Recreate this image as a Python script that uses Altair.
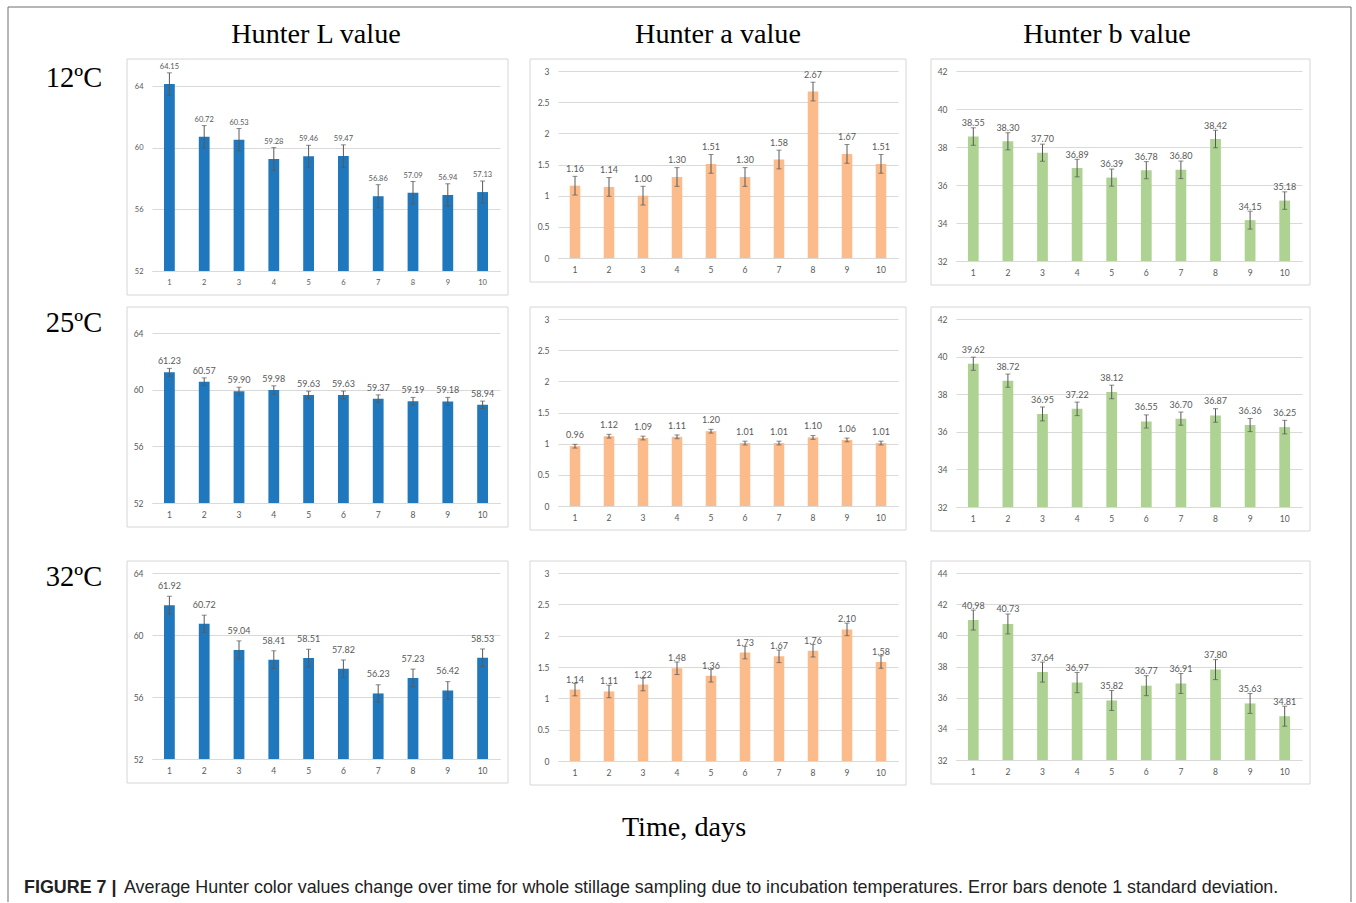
import altair as alt
import pandas as pd

# Sampling days
days = list(range(1, 11))

# Mean Hunter values by incubation temperature
L_12 = [64.15, 60.72, 60.53, 59.28, 59.46, 59.47, 56.86, 57.09, 56.94, 57.13]
a_12 = [1.16, 1.14, 1.00, 1.30, 1.51, 1.30, 1.58, 2.67, 1.67, 1.51]
b_12 = [38.55, 38.30, 37.70, 36.89, 36.39, 36.78, 36.80, 38.42, 34.15, 35.18]
L_25 = [61.23, 60.57, 59.90, 59.98, 59.63, 59.63, 59.37, 59.19, 59.18, 58.94]
a_25 = [0.96, 1.12, 1.09, 1.11, 1.20, 1.01, 1.01, 1.10, 1.06, 1.01]
b_25 = [39.62, 38.72, 36.95, 37.22, 38.12, 36.55, 36.70, 36.87, 36.36, 36.25]
L_32 = [61.92, 60.72, 59.04, 58.41, 58.51, 57.82, 56.23, 57.23, 56.42, 58.53]
a_32 = [1.14, 1.11, 1.22, 1.48, 1.36, 1.73, 1.67, 1.76, 2.10, 1.58]
b_32 = [40.98, 40.73, 37.64, 36.97, 35.82, 36.77, 36.91, 37.80, 35.63, 34.81]

# Standard deviations (error bars)
sd_L_12 = [0.73, 0.73, 0.73, 0.74, 0.71, 0.73, 0.75, 0.73, 0.73, 0.72]
sd_a_12 = [0.15, 0.15, 0.15, 0.15, 0.15, 0.15, 0.15, 0.15, 0.15, 0.15]
sd_b_12 = [0.46, 0.45, 0.45, 0.46, 0.45, 0.45, 0.46, 0.46, 0.47, 0.46]
sd_L_25 = [0.28, 0.27, 0.28, 0.30, 0.27, 0.28, 0.27, 0.27, 0.28, 0.26]
sd_a_25 = [0.03, 0.03, 0.03, 0.03, 0.03, 0.03, 0.03, 0.03, 0.03, 0.03]
sd_b_25 = [0.35, 0.35, 0.37, 0.36, 0.36, 0.35, 0.35, 0.36, 0.35, 0.36]
sd_L_32 = [0.58, 0.56, 0.58, 0.57, 0.57, 0.57, 0.56, 0.57, 0.57, 0.57]
sd_a_32 = [0.10, 0.10, 0.10, 0.10, 0.10, 0.10, 0.10, 0.10, 0.10, 0.10]
sd_b_32 = [0.64, 0.64, 0.64, 0.65, 0.64, 0.64, 0.64, 0.64, 0.64, 0.64]

temps = ["12ºC", "25ºC", "32ºC"]
column_titles = ["Hunter L value", "Hunter a value", "Hunter b value"]
x_title = "Time, days"
caption_lead = "FIGURE 7 |"
caption_body = ("Average Hunter color values change over time for whole stillage sampling "
                "due to incubation temperatures. Error bars denote 1 standard deviation.")

L_ticks = [52, 56, 60, 64]
a_ticks = [0, 0.5, 1, 1.5, 2, 2.5, 3]
b_ticks = [32, 34, 36, 38, 40, 42]
b_ticks_32 = [32, 34, 36, 38, 40, 42, 44]

BLUE = "#1f78bd"
ORANGE = "#fbbb8a"
GREEN = "#add291"
GRAY = "#595959"
GRID = "#d9d9d9"
FONT = "Lato"
SERIF = "Liberation Serif"
SANS = "Liberation Sans"

LABEL_W = 94
COL_W = [348, 340, 346]
HEADER_H = 61
ROW_H = [238, 244, 186]


def panel(values, sds, color, domain, ticks, width, height, label_dy,
          value_size=9.0, tick_size=8.5, frame_left=-25):
    df = pd.DataFrame({"day": days, "value": values, "sd": sds})
    df["lo"] = df["value"] - df["sd"]
    df["hi"] = df["value"] + df["sd"]
    base = alt.Chart(df)

    x = alt.X("day:O", scale=alt.Scale(paddingInner=0, paddingOuter=0),
              axis=alt.Axis(title="", labelAngle=0, labelPadding=7, ticks=False,
                            tickSize=0, domain=True, domainColor=GRID, grid=False,
                            labelFontSize=tick_size, labelColor=GRAY, labelFont=FONT))
    yscale = alt.Scale(domain=domain, nice=False, zero=False)
    yaxis = alt.Axis(title="", values=ticks, grid=True, gridColor=GRID, gridWidth=1,
                     domain=False, ticks=False, tickSize=0, labelPadding=9,
                     labelFontSize=tick_size, labelColor=GRAY, labelFont=FONT, format="~g")

    def y(field):
        return alt.Y(field, scale=yscale, axis=yaxis)

    frame = alt.Chart(alt.Data(values=[{"k": 0}])).mark_rect(
        fillOpacity=0, stroke="#d6d6d6", strokeWidth=1
    ).encode(x=alt.value(frame_left), x2=alt.value(width + 8),
             y=alt.value(-12), y2=alt.value(height + 24))

    bars = base.mark_bar(color=color, width=alt.RelativeBandSize(0.31)).encode(
        x=x, y=y("value:Q"), y2=alt.datum(domain[0]))
    err = base.mark_rule(color=GRAY, strokeWidth=1).encode(
        x=x, y=y("lo:Q"), y2="hi:Q")
    cap_lo = base.mark_tick(color=GRAY, size=5, thickness=1).encode(x=x, y=y("lo:Q"))
    cap_hi = base.mark_tick(color=GRAY, size=5, thickness=1).encode(x=x, y=y("hi:Q"))
    labels = base.mark_text(dy=-label_dy, fontSize=value_size, color=GRAY, font=FONT,
                            baseline="middle").encode(
        x=x, y=y("value:Q"), text=alt.Text("value:Q", format=".2f"))

    return alt.layer(frame, bars, err, cap_lo, cap_hi, labels).properties(
        width=width, height=height)


def text_layer(text, x, y, size, font, weight="normal", align="center", color="black"):
    return alt.Chart(alt.Data(values=[{"t": text}])).mark_text(
        font=font, fontSize=size, fontWeight=weight, align=align,
        baseline="alphabetic", color=color
    ).encode(text="t:N", x=alt.value(x), y=alt.value(y))


one = alt.Data(values=[{"k": 0}])
FRAME = "#6f6f6f"
outer = [
    alt.Chart(one).mark_rule(color=FRAME, strokeWidth=1).encode(
        x=alt.value(8), y=alt.value(7), y2=alt.value(902)),
    alt.Chart(one).mark_rule(color=FRAME, strokeWidth=1).encode(
        x=alt.value(8), x2=alt.value(1351), y=alt.value(7)),
    alt.Chart(one).mark_rule(color=FRAME, strokeWidth=1).encode(
        x=alt.value(1351), y=alt.value(7), y2=alt.value(902)),
]

# Header row: outer frame + column titles
corner = alt.layer(*outer).properties(width=LABEL_W, height=HEADER_H)
title_x = [164, 160, 151]
headers = [
    text_layer(column_titles[i], title_x[i], 43, 28.2, SERIF).properties(
        width=COL_W[i], height=HEADER_H)
    for i in range(3)
]

row_label_y = [16, 13, 13]
row_cells = []
for r in range(3):
    layers = [text_layer(temps[r], 74, row_label_y[r], 28.5, SERIF)]
    if r == 2:
        layers.append(text_layer(x_title, 684, 263, 28.2, SERIF))
        layers.append(text_layer(caption_lead, 24, 320, 17.9, SANS, weight="bold",
                                 align="left", color="#222222"))
        layers.append(text_layer(caption_body, 124, 320, 17.9, SANS, align="left",
                                 color="#222222"))
    row_cells.append(alt.layer(*layers).properties(width=LABEL_W, height=ROW_H[r]))

p = [
    [
        panel(L_12, sd_L_12, BLUE, [52, 65], L_ticks, COL_W[0], 200, 17,
              value_size=7.5, tick_size=7.5),
        panel(a_12, sd_a_12, ORANGE, [0, 3], a_ticks, COL_W[1], 187, 17, frame_left=-28),
        panel(b_12, sd_b_12, GREEN, [32, 42], b_ticks, COL_W[2], 190, 13.5),
    ],
    [
        panel(L_25, sd_L_25, BLUE, [52, 65], L_ticks, COL_W[0], 184, 11),
        panel(a_25, sd_a_25, ORANGE, [0, 3], a_ticks, COL_W[1], 187, 11, frame_left=-28),
        panel(b_25, sd_b_25, GREEN, [32, 42], b_ticks, COL_W[2], 188, 14),
    ],
    [
        panel(L_32, sd_L_32, BLUE, [52, 64], L_ticks, COL_W[0], 186, 19),
        panel(a_32, sd_a_32, ORANGE, [0, 3], a_ticks, COL_W[1], 188, 10, frame_left=-28),
        panel(b_32, sd_b_32, GREEN, [32, 44], b_ticks_32, COL_W[2], 187, 14.5),
    ],
]

cells = [corner] + headers
for r in range(3):
    cells += [row_cells[r]] + p[r]

chart = alt.concat(
    *cells, columns=4, spacing={"row": 10, "column": 58}, bounds="flush", align="each"
).properties(
    padding=0, background="white"
).configure_view(strokeWidth=0)

chart.save("out.html", embed_options={"renderer": "svg", "actions": False})
